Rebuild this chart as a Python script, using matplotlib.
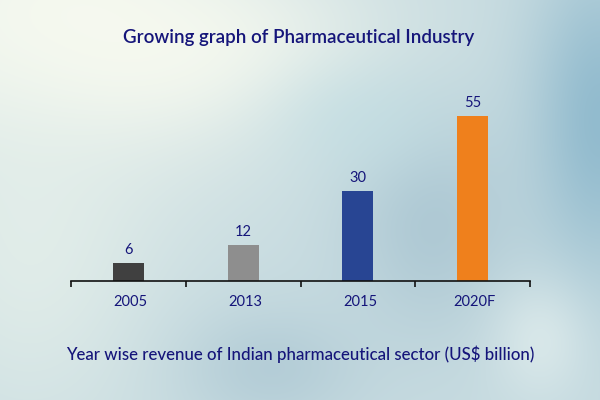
import numpy as np
import matplotlib
matplotlib.use('Agg')
import matplotlib.pyplot as plt

# chart data
years = ['2005', '2013', '2015', '2020F']
revenue = [6, 12, 30, 55]
bar_colors = ['#404040', '#8e8e8e', '#284593', '#ef801c']

TITLE = 'Growing graph of Pharmaceutical Industry'
CAPTION = 'Year wise revenue of Indian pharmaceutical sector (US$ billion)'
TEXT_COLOR = '#15157a'
FONT = ['Lato', 'DejaVu Sans']


def _background(h=400, w=600):
    """Soft blurred blue backdrop, lighter towards the top-left."""
    yy, xx = np.mgrid[0:h, 0:w]
    yy = yy / h
    xx = xx / w
    base = np.array([0.78, 0.86, 0.88])
    light = np.array([0.97, 0.98, 0.94])
    dark = np.array([0.55, 0.72, 0.80])
    img = np.ones((h, w, 3)) * base

    def blob(cx, cy, sx, sy, col, k=1.0):
        nonlocal img
        g = k * np.exp(-(((xx - cx) / sx) ** 2 + ((yy - cy) / sy) ** 2))
        img = img * (1 - g[..., None]) + col * g[..., None]

    blob(0.1, 0.05, 0.42, 0.4, light, 1.0)
    blob(0.05, 0.6, 0.22, 0.5, np.array([0.90, 0.94, 0.92]), 0.8)
    blob(0.3, 0.12, 0.3, 0.18, light, 0.7)
    blob(1.0, 0.3, 0.12, 0.4, dark, 0.9)
    blob(0.72, 0.55, 0.14, 0.28, np.array([0.62, 0.74, 0.80]), 0.6)
    blob(0.45, 0.92, 0.15, 0.15, np.array([0.66, 0.77, 0.82]), 0.6)
    blob(0.9, 0.85, 0.08, 0.15, np.array([0.88, 0.93, 0.93]), 0.7)
    blob(0.6, 0.3, 0.15, 0.15, np.array([0.76, 0.87, 0.89]), 0.6)
    return np.clip(img, 0, 1)


def main():
    plt.rcParams['font.family'] = FONT
    fig = plt.figure(figsize=(6, 4), dpi=100)

    bg = fig.add_axes([0, 0, 1, 1])
    bg.imshow(_background(), aspect='auto', extent=[0, 1, 0, 1])
    bg.set_axis_off()

    ax = fig.add_axes([71 / 600, 1 - 281 / 400, 459 / 600, 180 / 400])
    ax.patch.set_alpha(0)
    x = np.arange(len(years))
    ax.bar(x, revenue, width=0.27, color=bar_colors)
    for xi, v in zip(x, revenue):
        ax.text(xi, v + 1.9, str(v), ha='center', va='bottom',
                fontsize=10.5, color=TEXT_COLOR)

    ax.set_xlim(-0.5, len(years) - 0.5)
    ax.set_ylim(0, 60)
    for s in ['top', 'right', 'left']:
        ax.spines[s].set_visible(False)
    ax.spines['bottom'].set_color('#111111')
    ax.spines['bottom'].set_linewidth(1.2)
    ax.set_yticks([])

    # boundaries get the tick marks, centres get the labels
    ax.set_xticks(np.arange(-0.5, len(years), 1.0))
    ax.set_xticklabels([])
    ax.tick_params(axis='x', which='major', length=4, width=1.2, color='#111111')
    ax.set_xticks(x + 0.02, minor=True)
    ax.set_xticklabels(years, minor=True)
    ax.tick_params(axis='x', which='minor', length=0, pad=10,
                   labelsize=10.5, labelcolor=TEXT_COLOR)

    fig.text(0.497, 1 - 38 / 400, TITLE, ha='center', va='center',
             fontsize=13.5, color=TEXT_COLOR, fontweight='semibold')
    fig.text(0.5, 1 - 354 / 400, CAPTION, ha='center', va='center',
             fontsize=12.2, color=TEXT_COLOR, fontweight='medium')

    fig.savefig('out.png', dpi=100)


if __name__ == '__main__':
    main()
